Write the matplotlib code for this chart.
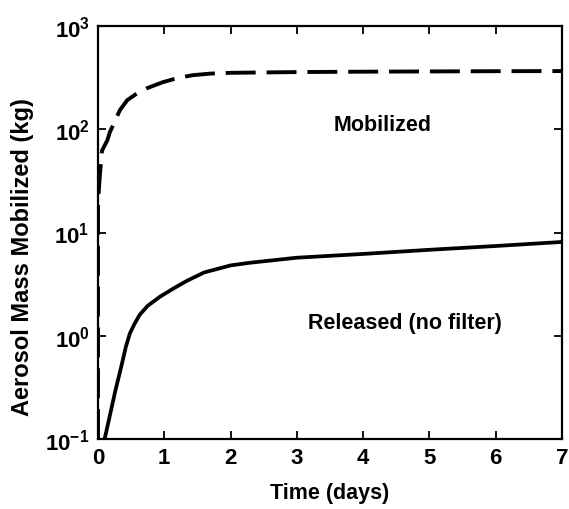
import numpy as np
import matplotlib
matplotlib.use('Agg')
import matplotlib.pyplot as plt

plt.rcParams['font.family'] = ['Liberation Sans', 'DejaVu Sans']
plt.rcParams['font.weight'] = 'bold'
plt.rcParams['mathtext.fontset'] = 'custom'
plt.rcParams['mathtext.rm'] = 'Liberation Sans:bold'
plt.rcParams['mathtext.bf'] = 'Liberation Sans:bold'

# Mobilized aerosol mass (dashed)
mob_days = [0.0, 0.0, 0.03, 0.06, 0.14, 0.18, 0.33, 0.44, 0.6, 0.74, 0.98, 1.2, 1.43, 1.7, 2.0, 3.0, 4.0, 5.0, 6.0, 7.0]
mob_kg = [0.1, 20, 37, 62, 78, 94, 153, 191, 225, 250, 286, 313, 334, 346, 352, 358, 361, 363, 365, 366]

# Released mass, no filter (solid)
rel_days = [0.1, 0.18, 0.26, 0.35, 0.42, 0.48, 0.55, 0.63, 0.75, 0.94, 1.15, 1.34, 1.6, 2.0, 2.3, 3.0, 4.0, 5.0, 6.0, 7.0]
rel_kg = [0.1, 0.17, 0.29, 0.5, 0.78, 1.05, 1.3, 1.6, 1.95, 2.4, 2.9, 3.4, 4.1, 4.8, 5.1, 5.7, 6.2, 6.8, 7.4, 8.1]

fig = plt.figure(figsize=(5.69, 5.10), dpi=100)
ax = fig.add_axes([98 / 569, 1 - 440 / 510, (562 - 98) / 569, (440 - 27) / 510])

ax.plot(mob_days, mob_kg, color='black', linewidth=2.8, linestyle=(0, (7.7, 2.8)))
ax.plot(rel_days, rel_kg, color='black', linewidth=2.7)

ax.set_yscale('log')
ax.set_xlim(0, 7)
ax.set_ylim(0.1, 1000)
ax.set_xticks(range(0, 8))
ax.yaxis.set_minor_locator(matplotlib.ticker.NullLocator())

ax.text(4.3, 110, 'Mobilized', ha='center', va='center', fontsize=15.5, fontweight='bold')
ax.text(4.63, 1.34, 'Released (no filter)', ha='center', va='center', fontsize=15.5, fontweight='bold')

ax.set_xlabel('Time (days)', fontsize=15.5, fontweight='bold', labelpad=10)
ax.set_ylabel('Aerosol Mass Mobilized (kg)', fontsize=17, fontweight='bold')
ax.yaxis.set_label_coords(-64 / 464, (440 - 257) / 413)

ax.tick_params(direction='in', top=True, right=True, length=6, width=1.3, labelsize=16, pad=6)
for s in ax.spines.values():
    s.set_linewidth(1.6)

fig.savefig('out.png', dpi=100)
